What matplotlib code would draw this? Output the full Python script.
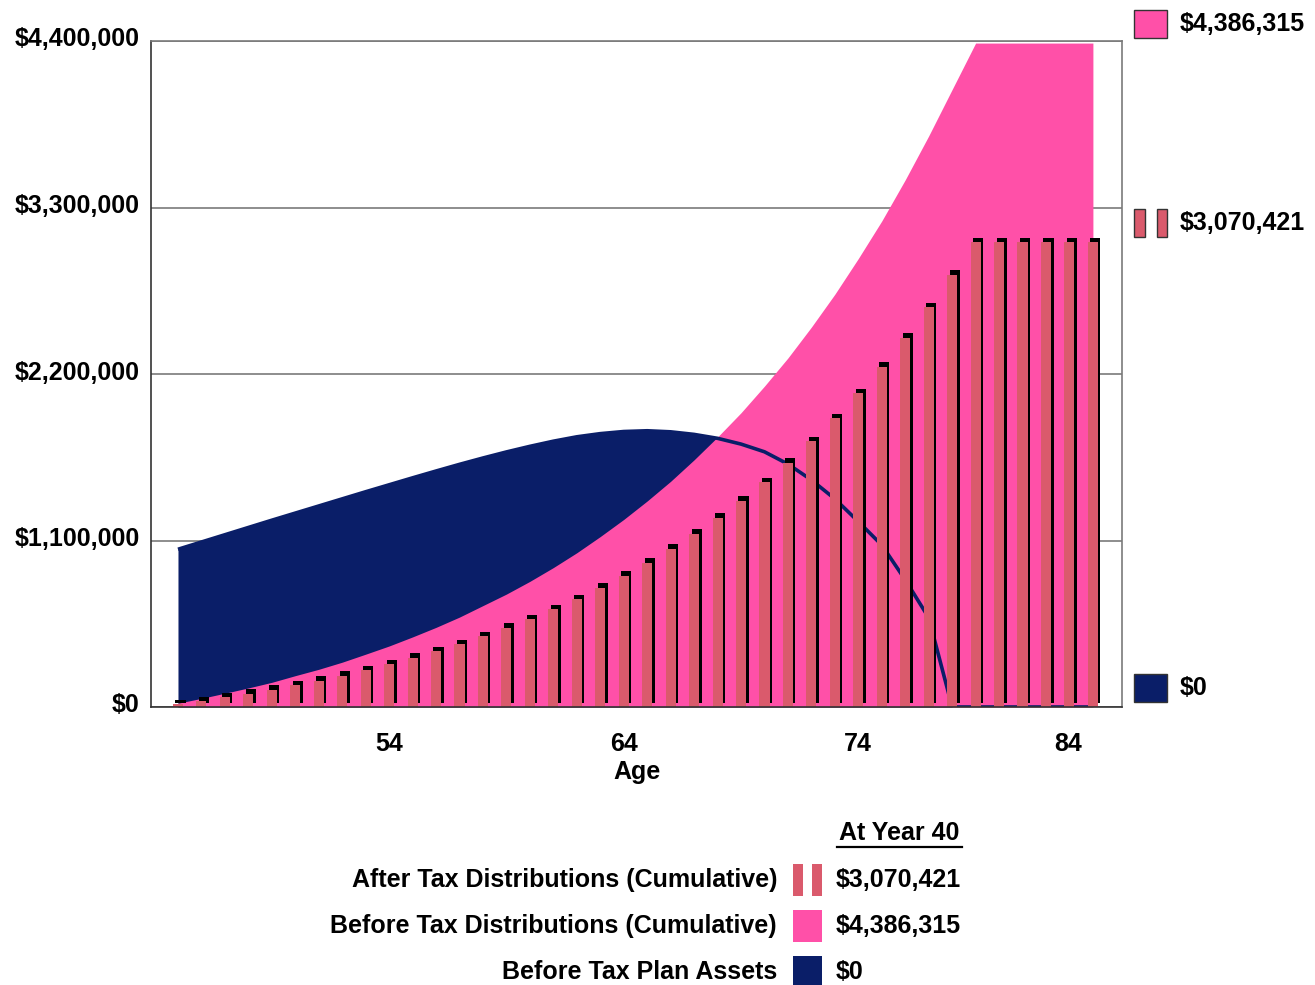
import matplotlib
matplotlib.use("Agg")
import matplotlib.pyplot as plt
import matplotlib.transforms as mtransforms
from matplotlib.patches import Rectangle
from matplotlib.lines import Line2D

# Yas (40 yil)
ages = list(range(45, 85))

# Vergi sonrasi dagitimlar (kumulatif) - cubuklar
after_tax = [17800, 39600, 64000, 88000, 114000, 145000, 174000, 207000, 244000, 282000,
             324000, 368000, 416000, 469000, 522000, 581000, 645000, 713000, 788000, 867000,
             953000, 1044000, 1143000, 1249000, 1361000, 1484000, 1614000, 1757000, 1909000, 2074000,
             2248000, 2438000, 2641000, 2856000, 3070421, 3070421, 3070421, 3070421, 3070421, 3070421]

# Vergi oncesi dagitimlar (kumulatif) - pembe alan
before_tax = [25000, 57000, 91000, 126000, 163000, 207000, 249000, 296000, 349000, 403000,
              463000, 526000, 594000, 670000, 746000, 830000, 921000, 1019000, 1126000, 1239000,
              1361000, 1491000, 1633000, 1784000, 1944000, 2120000, 2306000, 2510000, 2727000, 2963000,
              3211000, 3483000, 3773000, 4080000, 4386315, 4386315, 4386315, 4386315, 4386315, 4386315]

# Vergi oncesi plan varliklari - lacivert alan
plan_assets = [1042000, 1090000, 1138000, 1186000, 1234000, 1281000, 1328000, 1375000, 1422000, 1468000,
               1514000, 1559000, 1603000, 1645000, 1685000, 1722000, 1756000, 1785000, 1806000, 1820000,
               1825000, 1818000, 1801000, 1775000, 1737000, 1686000, 1605000, 1500000, 1375000, 1225000,
               1070000, 840000, 590000, 0, 0, 0, 0, 0, 0, 0]

y_ticks = [0, 1100000, 2200000, 3300000, 4400000]
x_ticks = [54, 64, 74, 84]
series_names = ["After Tax Distributions (Cumulative)",
                "Before Tax Distributions (Cumulative)",
                "Before Tax Plan Assets"]
summary_title = "At Year 40"

navy = "#0A1E68"
pink = "#FF50A8"
bar_red = "#DA5A6C"

plt.rcParams["font.family"] = ["Liberation Sans", "DejaVu Sans"]
plt.rcParams["font.weight"] = "bold"

W, H = 1315, 985
fig = plt.figure(figsize=(W / 100, H / 100), dpi=100)
ax = fig.add_axes([151 / W, 1 - 707 / H, (1122 - 151) / W, (707 - 41) / H])


def fx(px):
    return px / W


def fy(py):
    return 1 - py / H


# alanlar
ax.fill_between(ages, plan_assets, color=navy, lw=0, zorder=1)
ax.fill_between(ages, before_tax, color=pink, lw=0, zorder=2)
ax.plot(ages, plan_assets, color=navy, lw=2.6, zorder=3, solid_capstyle="butt")

# cubuklar + golge
bw = 0.43
shadow = ax.bar(ages, after_tax, width=bw, color="black", lw=0, zorder=4)
off = mtransforms.ScaledTranslation(2.5 / 100, 4.5 / 100, fig.dpi_scale_trans)
for p in shadow:
    p.set_transform(ax.transData + off)
ax.bar(ages, after_tax, width=bw, color=bar_red, lw=0, zorder=5)

ax.set_xlim(43.85, 85.24)
ax.set_ylim(0, 4400000)

# eksenler
ax.set_yticks(y_ticks)
ax.set_yticklabels(["${:,.0f}".format(v) for v in y_ticks], fontsize=18, fontweight="bold")
ax.tick_params(axis="y", length=0, pad=8)
up = mtransforms.ScaledTranslation(0, 4 / 100, fig.dpi_scale_trans)
for lab in ax.get_yticklabels():
    lab.set_transform(lab.get_transform() + up)

narrow = ["Liberation Sans Narrow", "Liberation Sans"]
ax.set_xticks(x_ticks)
ax.set_xticklabels([str(a) for a in x_ticks], fontsize=18, fontweight="bold", family=narrow)
ax.tick_params(axis="x", length=0, pad=18)
left_shift = mtransforms.ScaledTranslation(-25 / 100, 0, fig.dpi_scale_trans)
last = ax.get_xticklabels()[-1]
last.set_transform(last.get_transform() + left_shift)
ax.set_xlabel("Age", fontsize=18, fontweight="bold", family=narrow, labelpad=3)

ax.yaxis.grid(True, color="#7a7a7a", lw=1.2)
ax.set_axisbelow(True)
ax.spines["left"].set_color("#333333")
ax.spines["bottom"].set_color("#333333")
ax.spines["top"].set_color("#7a7a7a")
ax.spines["right"].set_color("#7a7a7a")
for s in ax.spines.values():
    s.set_linewidth(1.2)
    s.set_zorder(6)

# sag taraftaki son deger etiketleri
finals = [(before_tax[-1], "box", pink),
          (after_tax[-1], "bars", bar_red),
          (plan_assets[-1], "box", navy)]
for val, kind, col in finals:
    ypx = H - ax.transData.transform((ages[-1], val))[1] - 19
    if kind == "box":
        fig.patches.append(Rectangle((fx(1134), fy(ypx + 14)), fx(33), 28 / H,
                                     transform=fig.transFigure, facecolor=col,
                                     edgecolor="#333333", lw=1))
    else:
        for x0, w in [(1134, 11), (1157, 10)]:
            fig.patches.append(Rectangle((fx(x0), fy(ypx + 14)), fx(w), 28 / H,
                                         transform=fig.transFigure, facecolor=col,
                                         edgecolor="#333333", lw=1))
    fig.text(fx(1180), fy(ypx), "${:,.0f}".format(val), fontsize=18,
             fontweight="bold", ha="left", va="center")

# alt gosterge
fig.text(fx(899), fy(833), summary_title, fontsize=18, fontweight="bold",
         ha="center", va="center")
fig.lines.append(Line2D([fx(837), fx(962)], [fy(847), fy(847)],
                        transform=fig.transFigure, color="black", lw=1.6))

rows = [(series_names[0], after_tax[-1], "bars", bar_red, 880),
        (series_names[1], before_tax[-1], "box", pink, 926),
        (series_names[2], plan_assets[-1], "box", navy, 972)]
for name, val, kind, col, yc in rows:
    fig.text(fx(777), fy(yc), name, fontsize=18, fontweight="bold", ha="right", va="center")
    if kind == "box":
        fig.patches.append(Rectangle((fx(793), fy(yc + 16)), fx(29), 32 / H,
                                     transform=fig.transFigure, facecolor=col, lw=0))
    else:
        for x0 in [793, 812]:
            fig.patches.append(Rectangle((fx(x0), fy(yc + 16)), fx(10), 32 / H,
                                         transform=fig.transFigure, facecolor=col, lw=0))
    fig.text(fx(836), fy(yc), "${:,.0f}".format(val), fontsize=18, fontweight="bold",
             ha="left", va="center")

fig.savefig("out.png", dpi=100)
